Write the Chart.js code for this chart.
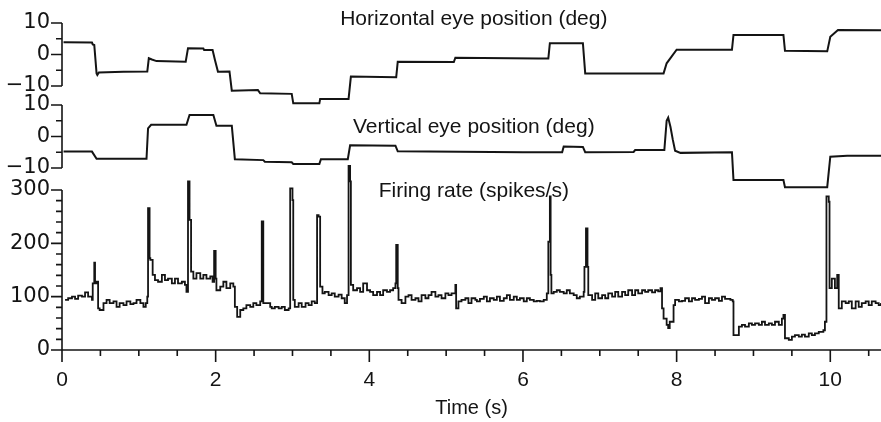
<!DOCTYPE html>
<html>
<head>
<meta charset="utf-8">
<script src="https://cdn.jsdelivr.net/npm/chart.js@4.4.1/dist/chart.umd.min.js"></script>
<style>
	html, body { margin: 0; padding: 0; background: #fff; }
</style>
</head>
<body>
<canvas id="chart" width="881" height="422"></canvas>
<script>
// Axis ticks
const timeTicks = [0, 2, 4, 6, 8, 10];
const timeMax = 10.66;
const eyeTicks = [-10, 0, 10];
const rateTicks = [0, 100, 200, 300];
const panelTitles = ['Horizontal eye position (deg)', 'Vertical eye position (deg)', 'Firing rate (spikes/s)'];

// Horizontal eye position (deg)
const hTime = [0.02, 0.39, 0.40, 0.42, 0.45, 0.46, 0.48, 0.80, 1.11, 1.13,
	1.17, 1.23, 1.61, 1.64, 1.84, 1.85, 1.96, 1.99, 2.03, 2.18,
	2.21, 2.55, 2.58, 2.99, 3.01, 3.35, 3.36, 3.73, 3.76, 4.35,
	4.37, 5.10, 5.12, 6.20, 6.33, 6.35, 6.78, 6.81, 7.83, 7.87,
	8.00, 8.72, 8.74, 9.39, 9.41, 9.96, 10.00, 10.10, 10.66];
const hPos = [3.9, 3.8, 3.2, 3.0, -6.0, -6.5, -5.7, -5.5, -5.4, -1.2,
	-1.6, -2.1, -2.3, 2.0, 1.9, 1.4, 1.4, -1.7, -5.5, -5.4,
	-11.5, -11.3, -12.3, -12.5, -15.5, -15.5, -14.1, -14.1, -7.0, -7.2,
	-2.3, -2.4, -1.0, -1.3, -1.3, 3.6, 3.6, -6.0, -6.0, -2.8,
	1.5, 1.5, 6.2, 6.2, 1.2, 1.0, 5.6, 7.8, 7.7];

// Vertical eye position (deg)
const vTime = [0.02, 0.39, 0.45, 1.10, 1.12, 1.16, 1.62, 1.66, 1.97, 2.01,
	2.21, 2.25, 2.62, 2.64, 2.99, 3.01, 3.35, 3.37, 3.72, 3.75,
	4.34, 4.37, 6.00, 6.51, 6.53, 6.78, 6.81, 7.44, 7.46, 7.84,
	7.87, 7.89, 7.92, 7.95, 7.98, 8.05, 8.72, 8.74, 9.39, 9.41,
	9.96, 10.00, 10.22, 10.66];
const vPos = [-4.8, -4.8, -7.1, -7.1, 2.6, 3.7, 3.7, 6.8, 6.8, 3.4,
	3.4, -7.2, -7.5, -8.0, -8.2, -8.7, -8.7, -7.2, -7.2, -2.8,
	-2.9, -4.7, -5.0, -5.0, -3.2, -3.3, -5.0, -4.9, -4.3, -4.3,
	5.0, 6.0, 3.0, -1.0, -4.5, -5.2, -5.0, -13.8, -13.8, -16.1,
	-16.1, -6.4, -6.1, -6.1];

// Firing rate (spikes/s)
const rateTime = [0.04, 0.08, 0.13, 0.17, 0.21, 0.26, 0.30, 0.34, 0.39, 0.40,
	0.42, 0.43, 0.45, 0.47, 0.49, 0.54, 0.58, 0.62, 0.67, 0.71,
	0.75, 0.80, 0.84, 0.89, 0.93, 0.97, 1.02, 1.06, 1.09, 1.11,
	1.12, 1.14, 1.15, 1.18, 1.21, 1.25, 1.30, 1.34, 1.38, 1.43,
	1.47, 1.51, 1.56, 1.60, 1.62, 1.64, 1.66, 1.68, 1.71, 1.75,
	1.80, 1.84, 1.88, 1.93, 1.96, 1.98, 2.00, 2.01, 2.06, 2.10,
	2.14, 2.19, 2.23, 2.25, 2.28, 2.32, 2.36, 2.40, 2.45, 2.49,
	2.53, 2.58, 2.60, 2.62, 2.66, 2.71, 2.73, 2.77, 2.82, 2.86,
	2.90, 2.95, 2.97, 3.00, 3.01, 3.03, 3.08, 3.12, 3.17, 3.21,
	3.25, 3.29, 3.32, 3.34, 3.36, 3.39, 3.42, 3.47, 3.51, 3.55,
	3.60, 3.64, 3.68, 3.71, 3.73, 3.75, 3.76, 3.79, 3.84, 3.88,
	3.92, 3.97, 4.01, 4.05, 4.10, 4.14, 4.18, 4.23, 4.27, 4.31,
	4.34, 4.35, 4.37, 4.38, 4.42, 4.47, 4.51, 4.55, 4.60, 4.64,
	4.68, 4.73, 4.77, 4.81, 4.86, 4.90, 4.94, 4.99, 5.03, 5.07,
	5.12, 5.13, 5.16, 5.20, 5.25, 5.29, 5.33, 5.38, 5.40, 5.44,
	5.49, 5.53, 5.57, 5.62, 5.66, 5.70, 5.75, 5.79, 5.83, 5.88,
	5.92, 5.96, 6.01, 6.05, 6.09, 6.14, 6.18, 6.22, 6.27, 6.31,
	6.33, 6.35, 6.36, 6.37, 6.40, 6.44, 6.48, 6.53, 6.57, 6.61,
	6.66, 6.70, 6.74, 6.79, 6.80, 6.82, 6.84, 6.85, 6.90, 6.94,
	6.98, 7.03, 7.07, 7.11, 7.16, 7.20, 7.24, 7.29, 7.33, 7.37,
	7.42, 7.46, 7.50, 7.55, 7.59, 7.63, 7.68, 7.72, 7.76, 7.79,
	7.81, 7.83, 7.87, 7.89, 7.91, 7.96, 7.98, 8.03, 8.07, 8.11,
	8.16, 8.20, 8.24, 8.29, 8.33, 8.37, 8.42, 8.46, 8.50, 8.55,
	8.59, 8.63, 8.70, 8.73, 8.74, 8.79, 8.81, 8.85, 8.89, 8.94,
	8.98, 9.02, 9.07, 9.11, 9.15, 9.20, 9.24, 9.28, 9.33, 9.37,
	9.39, 9.41, 9.46, 9.50, 9.54, 9.59, 9.63, 9.67, 9.72, 9.76,
	9.80, 9.85, 9.91, 9.93, 9.95, 9.98, 9.99, 10.02, 10.06, 10.09,
	10.11, 10.15, 10.20, 10.24, 10.28, 10.33, 10.37, 10.41, 10.46, 10.50,
	10.54, 10.59, 10.63, 10.66];
const rate = [94, 97, 100, 96, 102, 100, 108, 100, 94, 125,
	164, 125, 128, 78, 75, 88, 94, 88, 91, 81,
	88, 84, 91, 86, 88, 94, 88, 81, 88, 100,
	266, 172, 169, 141, 131, 128, 141, 131, 134, 125,
	134, 125, 128, 122, 109, 316, 244, 147, 134, 144,
	134, 141, 134, 138, 128, 186, 134, 112, 119, 128,
	116, 125, 119, 81, 62, 75, 78, 84, 81, 88,
	84, 91, 241, 88, 88, 81, 78, 81, 78, 81,
	75, 78, 303, 281, 94, 81, 88, 81, 88, 84,
	91, 88, 253, 250, 119, 106, 109, 103, 106, 100,
	104, 97, 88, 103, 345, 316, 122, 112, 116, 109,
	125, 112, 109, 103, 109, 103, 112, 109, 112, 116,
	125, 197, 116, 94, 88, 100, 103, 94, 97, 91,
	103, 97, 103, 109, 100, 103, 97, 106, 103, 106,
	122, 78, 91, 94, 97, 88, 97, 94, 91, 96,
	100, 91, 97, 94, 100, 92, 97, 103, 94, 100,
	94, 97, 91, 97, 94, 91, 92, 91, 94, 106,
	203, 288, 141, 106, 109, 112, 109, 106, 112, 106,
	103, 97, 100, 109, 156, 228, 156, 103, 94, 106,
	97, 103, 97, 106, 100, 109, 100, 109, 103, 112,
	103, 112, 106, 112, 109, 112, 108, 112, 110, 116,
	78, 59, 47, 41, 53, 84, 94, 91, 92, 97,
	91, 97, 94, 96, 100, 88, 97, 94, 97, 92,
	100, 96, 94, 91, 28, 28, 44, 47, 44, 50,
	47, 50, 47, 53, 47, 50, 47, 53, 47, 59,
	66, 22, 19, 25, 28, 25, 29, 25, 31, 28,
	31, 34, 37, 53, 288, 278, 116, 134, 116, 141,
	78, 91, 88, 91, 78, 91, 81, 88, 91, 84,
	91, 88, 84, 88];

const ink = '#141414';
const fontFamily = "'Liberation Sans', Arial, Helvetica, sans-serif";
const toPoints = (ts, vs) => ts.map((t, i) => ({x: t, y: vs[i]}));
const minusSign = (v) => String(v).replace('-', '\u2212');

// The three y axes are stacked on the left; stackWeight is the band height of each panel
const yAxis = (min, max, ticks, band, order) => ({
	type: 'linear',
	position: 'left',
	stack: 'panels',
	stackWeight: band,
	weight: order,
	min: min,
	max: max,
	grid: {display: false, drawTicks: false},
	border: {display: false},
	afterBuildTicks: (s) => { s.ticks = ticks.map(v => ({value: v})); },
	afterFit: (s) => { s.width = 62; s.paddingTop = 0; s.paddingBottom = 0; },
	ticks: {
		padding: 12,
		autoSkip: false,
		color: ink,
		font: {family: "'DejaVu Sans', sans-serif", size: 21},
		callback: minusSign
	}
});

// Axis lines, tick marks and panel titles
const panelAxes = {
	id: 'panelAxes',
	afterDraw(chart) {
		const ctx = chart.ctx, s = chart.scales, x = s.x;
		const x0 = x.left, yb = x.top;
		ctx.save();
		ctx.strokeStyle = ink;
		ctx.lineWidth = 1.6;
		ctx.beginPath();
		[[s.yH, eyeTicks, 5], [s.yV, eyeTicks, 5], [s.yRate, rateTicks, 20]].forEach(([ax, major, step]) => {
			const lo = major[0], hi = major[major.length - 1];
			ctx.moveTo(x0, ax.getPixelForValue(lo));
			ctx.lineTo(x0, ax.getPixelForValue(hi));
			for (let v = lo; v <= hi; v += step) {
				const py = ax.getPixelForValue(v);
				ctx.moveTo(x0 - (major.includes(v) ? 11 : 6), py);
				ctx.lineTo(x0, py);
			}
		});
		ctx.moveTo(x0, yb);
		ctx.lineTo(x.right, yb);
		for (let t = 0; t <= timeMax; t += 0.5) {
			const px = x.getPixelForValue(t);
			ctx.moveTo(px, yb);
			ctx.lineTo(px, yb + (timeTicks.includes(t) ? 12 : 6));
		}
		ctx.stroke();
		// titles sit inside each panel
		ctx.fillStyle = ink;
		ctx.font = '21px ' + fontFamily;
		ctx.textAlign = 'center';
		ctx.textBaseline = 'middle';
		const tx = x.getPixelForValue(5.36);
		ctx.fillText(panelTitles[0], tx, s.yH.getPixelForValue(11.3));
		ctx.fillText(panelTitles[1], tx, s.yV.getPixelForValue(3.0));
		ctx.fillText(panelTitles[2], tx, s.yRate.getPixelForValue(298));
		ctx.restore();
	}
};

const lineStyle = {borderColor: ink, pointRadius: 0, tension: 0, fill: false, clip: false};

new Chart(document.getElementById('chart'), {
	type: 'line',
	data: {
		datasets: [
			Object.assign({data: toPoints(hTime, hPos), yAxisID: 'yH', borderWidth: 2}, lineStyle),
			Object.assign({data: toPoints(vTime, vPos), yAxisID: 'yV', borderWidth: 2}, lineStyle),
			Object.assign({data: toPoints(rateTime, rate), yAxisID: 'yRate', borderWidth: 1.8, stepped: true}, lineStyle)
		]
	},
	options: {
		responsive: false,
		animation: false,
		layout: {padding: 0},
		plugins: {legend: {display: false}, tooltip: {enabled: false}},
		scales: {
			x: {
				type: 'linear',
				min: 0,
				max: timeMax,
				grid: {display: false, drawTicks: false},
				border: {display: false},
				afterBuildTicks: (s) => { s.ticks = timeTicks.map(v => ({value: v})); },
				afterFit: (s) => { s.height = 72; s.paddingLeft = 0; s.paddingRight = 0; },
				ticks: {
					padding: 18,
					maxRotation: 0,
					autoSkip: false,
					color: ink,
					font: {family: fontFamily, size: 21}
				},
				title: {
					display: true,
					text: 'Time (s)',
					color: ink,
					padding: {top: 0, bottom: 2},
					font: {family: fontFamily, size: 20}
				}
			},
			yH: yAxis(-12.86, 17.30, eyeTicks, 95, 3),
			yV: yAxis(-13.81, 13.17, eyeTicks, 85, 2),
			yRate: yAxis(0, 318.75, rateTicks, 170, 1)
		}
	},
	plugins: [panelAxes]
});
</script>
</body>
</html>
